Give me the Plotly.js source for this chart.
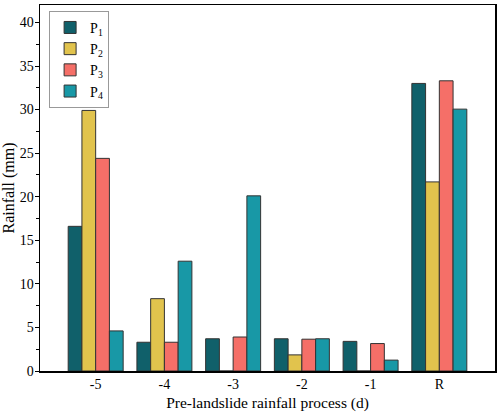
<!DOCTYPE html>
<html>
<head>
<meta charset="utf-8">
<script src="https://cdn.plot.ly/plotly-3.0.1.min.js"></script>
<style>html,body{margin:0;padding:0;background:#fff;}#chart{width:500px;height:412px;}</style>
</head>
<body>
<div id="chart"></div>
<script>
const categories = ["-5", "-4", "-3", "-2", "-1", "R"];
const seriesNames = ["P<sub>1</sub>", "P<sub>2</sub>", "P<sub>3</sub>", "P<sub>4</sub>"];
const p1 = [16.6, 3.3, 3.7, 3.7, 3.4, 33.0];
const p2 = [29.9, 8.3, 0, 1.85, 0, 21.7];
const p3 = [24.4, 3.3, 3.9, 3.65, 3.15, 33.3];
const p4 = [4.6, 12.6, 20.1, 3.7, 1.25, 30.05];
const colors = ["#10606a", "#e1c34d", "#f56f68", "#1898a6"];

const font = "Liberation Serif";
const data = [p1, p2, p3, p4].map((vals, i) => ({
  type: "bar",
  name: seriesNames[i],
  x: categories,
  y: vals,
  marker: {color: colors[i], line: {color: "#333333", width: 1}}
}));

const layout = {
  width: 500, height: 412,
  margin: {l: 40, r: 5, t: 5, b: 41},
  paper_bgcolor: "#fff", plot_bgcolor: "#fff",
  font: {family: font, size: 14, color: "#000"},
  barmode: "group", bargap: 0.2, bargroupgap: 0,
  showlegend: true,
  legend: {x: 0.02, y: 0.984, xanchor: "left", yanchor: "top",
           bordercolor: "#999", borderwidth: 1, bgcolor: "#fff",
           font: {family: font, size: 14}, tracegroupgap: 0},
  xaxis: {
    type: "category", range: [-0.81, 5.81],
    showline: true, linecolor: "#000", linewidth: 1.5, mirror: true,
    ticks: "", showgrid: false, zeroline: false,
    tickfont: {family: font, size: 14},
    title: {text: "Pre-landslide rainfall process (d)", font: {family: font, size: 15.5}, standoff: 6}
  },
  yaxis: {
    range: [0, 42], dtick: 5, tick0: 0,
    showline: true, linecolor: "#000", linewidth: 1.5, mirror: true,
    ticks: "outside", ticklen: 4, tickwidth: 1, tickcolor: "#000",
    ticklabelstandoff: -2,
    minor: {ticks: "outside", ticklen: 3, dtick: 2.5, tickcolor: "#000", tickwidth: 1},
    showgrid: false, zeroline: false,
    tickfont: {family: font, size: 14},
    title: {text: "Rainfall (mm)", font: {family: font, size: 16}, standoff: 3}
  }
};

Plotly.newPlot("chart", data, layout, {displayModeBar: false, staticPlot: true});
</script>
</body>
</html>
